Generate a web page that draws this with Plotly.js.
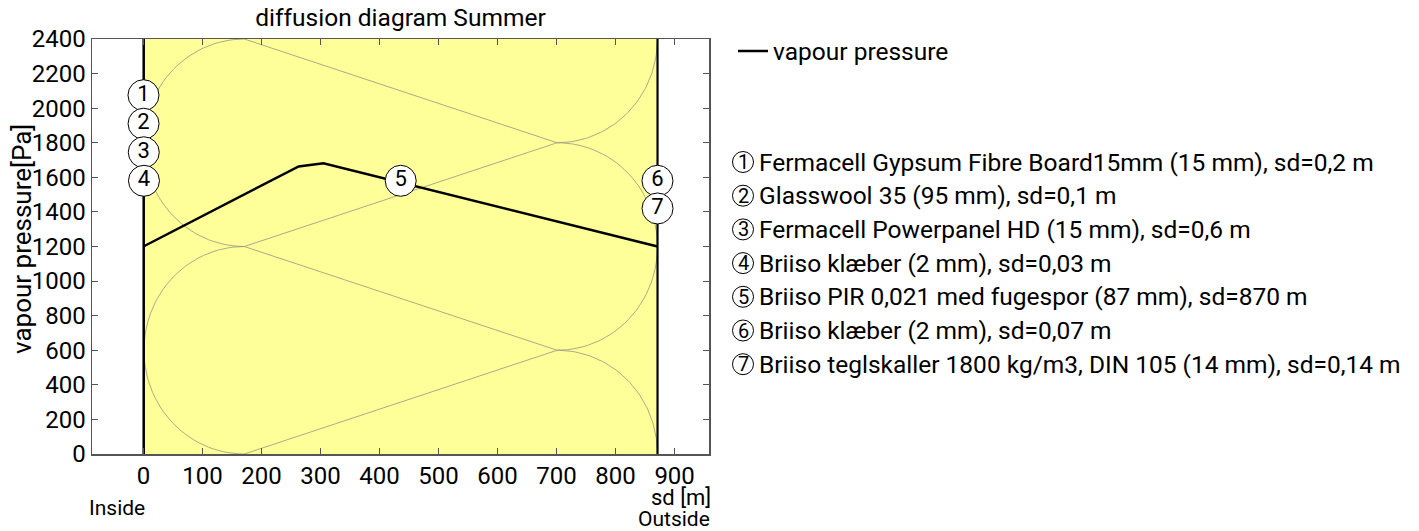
<!DOCTYPE html>
<html>
<head>
<meta charset="utf-8">
<script src="https://cdn.plot.ly/plotly-3.0.1.min.js"></script>
<style>
html,body{margin:0;padding:0;background:#fff;}
#chart{width:1419px;height:531px;}
</style>
</head>
<body>
<div id="chart"></div>
<script>
// ---- data ----
const layerNames = [
  "Fermacell Gypsum Fibre Board15mm (15 mm), sd=0,2 m",
  "Glasswool 35 (95 mm), sd=0,1 m",
  "Fermacell Powerpanel HD (15 mm), sd=0,6 m",
  "Briiso klæber (2 mm), sd=0,03 m",
  "Briiso PIR 0,021 med fugespor (87 mm), sd=870 m",
  "Briiso klæber (2 mm), sd=0,07 m",
  "Briiso teglskaller 1800 kg/m3, DIN 105 (14 mm), sd=0,14 m"
];
const layerSd = [0.2, 0.1, 0.6, 0.03, 870, 0.07, 0.14];
const labelNumbers = ["1", "2", "3", "4", "5", "6", "7"];
const labelY = [2075, 1910, 1745, 1580, 1580, 1580, 1420];
const vapourSd = [0, 263, 305, 871.14];
const vapourPressure = [1200, 1663, 1681, 1200];
const xTickVals = [0, 100, 200, 300, 400, 500, 600, 700, 800, 900];
const yTickVals = [0, 200, 400, 600, 800, 1000, 1200, 1400, 1600, 1800, 2000, 2200, 2400];
const hatchLayer = 4;          // PIR insulation hatch
const hatchLevels = [2400, 1800, 1200, 600, 0];

// ---- derived ----
const bounds = [0];
layerSd.forEach(s => bounds.push(bounds[bounds.length - 1] + s));
const total = bounds[bounds.length - 1];
const mids = layerSd.map((s, i) => bounds[i] + s / 2);
const yMax = 2400;

const FONT = "Roboto, 'Noto Sans', sans-serif";
const W = 1419, H = 531;
const M = {l: 92, r: 1419 - 709, t: 39, b: 531 - 454};
const PW = W - M.l - M.r, PH = H - M.t - M.b;
const px = x => (x - M.l) / PW;
const py = y => (M.t + PH - y) / PH;

// hatch geometry (insulation symbol)
const xL = bounds[hatchLayer], xR = bounds[hatchLayer + 1];
const rx = 170, ry = (hatchLevels[0] - hatchLevels[1]);
const hx = [], hy = [];
function arc(cx, cy, a0, a1) {
  const n = 60;
  for (let k = 0; k <= n; k++) {
    const a = a0 + (a1 - a0) * k / n;
    hx.push(cx + rx * Math.cos(a)); hy.push(cy + ry * Math.sin(a));
  }
  hx.push(null); hy.push(null);
}
for (let i = 0; i < hatchLevels.length; i++) {
  hx.push(i % 2 === 0 ? xL + rx : xR - rx); hy.push(hatchLevels[i]);
}
hx.push(null); hy.push(null);
arc(xL + rx, hatchLevels[1], Math.PI / 2, 3 * Math.PI / 2);
arc(xL + rx, hatchLevels[3], Math.PI / 2, 3 * Math.PI / 2);
arc(xR - rx, hatchLevels[2], -Math.PI / 2, Math.PI / 2);
arc(xR - rx, hatchLevels[0], -Math.PI / 2, 0);
arc(xR - rx, hatchLevels[4], 0, Math.PI / 2);

const traces = [];
traces.push({x: hx, y: hy, mode: 'lines', line: {color: 'rgba(150,150,130,0.8)', width: 1},
  hoverinfo: 'skip', showlegend: false});
const bx = [], by = [];
bounds.forEach(b => { bx.push(b, b, null); by.push(0, yMax, null); });
traces.push({x: bx, y: by, mode: 'lines', line: {color: '#000', width: 1.5}, hoverinfo: 'skip', showlegend: false});
traces.push({x: vapourSd, y: vapourPressure, mode: 'lines', name: 'vapour pressure',
  line: {color: '#000', width: 2.5}, showlegend: true});
traces.push({x: mids, y: labelY, mode: 'markers+text', text: labelNumbers,
  textposition: 'middle center', textfont: {family: FONT, size: 22, color: '#000'},
  marker: {size: 31, color: '#fff', line: {color: '#000', width: 1}},
  cliponaxis: false, hoverinfo: 'skip', showlegend: false});

const shapes = [{type: 'rect', xref: 'x', yref: 'y', x0: 0, x1: total, y0: 0, y1: yMax,
  fillcolor: '#ffff99', line: {width: 0}, layer: 'below'}];
const annotations = [
  {text: 'Inside', xref: 'paper', yref: 'paper', x: px(88), y: py(508), xanchor: 'left', yanchor: 'middle', showarrow: false, borderpad: 0, font: {family: FONT, size: 21, color: '#000'}},
  {text: 'sd [m]', xref: 'paper', yref: 'paper', x: px(712), y: py(497.5), xanchor: 'right', yanchor: 'middle', showarrow: false, borderpad: 0, font: {family: FONT, size: 22, color: '#000'}},
  {text: 'Outside', xref: 'paper', yref: 'paper', x: px(711), y: py(519), xanchor: 'right', yanchor: 'middle', showarrow: false, borderpad: 0, font: {family: FONT, size: 21, color: '#000'}},
  {text: 'vapour pressure[Pa]', xref: 'paper', yref: 'paper', x: px(22), y: py(239), xanchor: 'center', yanchor: 'middle', textangle: -90, showarrow: false, borderpad: 0, font: {family: FONT, size: 26, color: '#000'}}
];
const listY0 = 162, listStep = 33.7;
layerNames.forEach((name, i) => {
  const yc = listY0 + i * listStep;
  shapes.push({type: 'circle', xref: 'paper', yref: 'paper', xsizemode: 'pixel', ysizemode: 'pixel',
    xanchor: px(743), yanchor: py(yc), x0: -10.5, x1: 10.5, y0: -10.5, y1: 10.5,
    line: {color: '#000', width: 1}, fillcolor: 'rgba(0,0,0,0)'});
  annotations.push({text: labelNumbers[i], xref: 'paper', yref: 'paper', x: px(743), y: py(yc),
    xanchor: 'center', yanchor: 'middle', showarrow: false, font: {family: FONT, size: 20, color: '#000'}});
  annotations.push({text: name, xref: 'paper', yref: 'paper', x: px(757), y: py(yc),
    xanchor: 'left', yanchor: 'middle', showarrow: false, font: {family: FONT, size: 24.5, color: '#000'}});
});

const axisCommon = {showline: true, mirror: 'ticks', linecolor: '#555', linewidth: 1.5,
  ticks: 'inside', ticklen: 6, tickcolor: '#555', tickwidth: 1, showgrid: false, zeroline: false,
  tickfont: {family: FONT, size: 24, color: '#000'}};

const layout = {
  width: W, height: H, margin: M, paper_bgcolor: '#fff', plot_bgcolor: '#fff',
  font: {family: FONT, color: '#000'},
  title: {text: 'diffusion diagram Summer', font: {family: FONT, size: 24.5, color: '#000'},
    x: (M.l + PW / 2) / W, xanchor: 'center', y: 1 - 17 / H, yanchor: 'middle'},
  xaxis: Object.assign({}, axisCommon, {range: [-0.1 * total, 1.1 * total], tickvals: xTickVals}),
  yaxis: Object.assign({}, axisCommon, {range: [0, yMax], tickvals: yTickVals}),
  showlegend: true,
  legend: {x: px(733), xanchor: 'left', y: py(51), yanchor: 'middle', font: {family: FONT, size: 24.5, color: '#000'},
    bgcolor: 'rgba(0,0,0,0)', borderwidth: 0},
  shapes: shapes, annotations: annotations
};
Plotly.newPlot('chart', traces, layout, {staticPlot: true, displayModeBar: false});
</script>
</body>
</html>
